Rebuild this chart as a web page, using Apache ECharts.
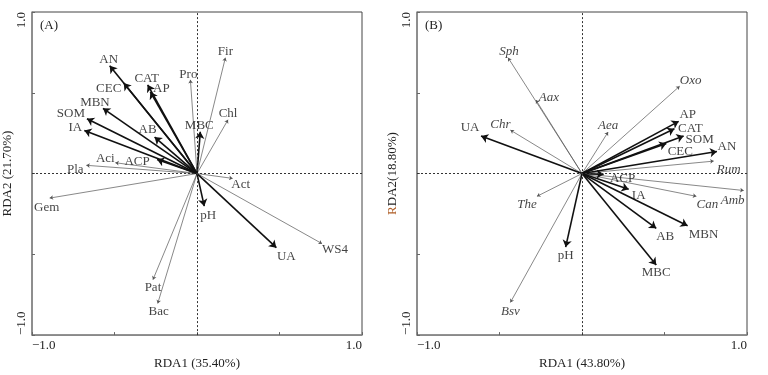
<!DOCTYPE html>
<html><head><meta charset="utf-8">
<script src="https://cdn.jsdelivr.net/npm/echarts@6/dist/echarts.min.js"></script>
<style>html,body{margin:0;padding:0;background:#fff}#c{width:768px;height:375px}</style>
</head><body><div id="c"></div>
<script>
// Panel A: environmental vectors (thick arrows)
var envA_names = ['AN','CEC','CAT','AP','MBN','SOM','IA','AB','ACP','MBC','pH','UA'];
var envA_x = [-0.529,-0.444,-0.299,-0.283,-0.570,-0.667,-0.683,-0.257,-0.242,0.020,0.044,0.481];
var envA_y = [0.667,0.560,0.549,0.505,0.404,0.339,0.267,0.226,0.087,0.259,-0.202,-0.459];
// Panel A: species vectors (thin)
var spA_names = ['Fir','Pro','Chl','Act','Gem','Pla','Aci','Pat','Bac','WS4'];
var spA_x = [0.172,-0.040,0.188,0.216,-0.893,-0.671,-0.495,-0.267,-0.238,0.758];
var spA_y = [0.717,0.580,0.333,-0.030,-0.152,0.051,0.067,-0.657,-0.804,-0.434];
// Panel B: environmental vectors
var envB_names = ['UA','AP','CAT','SOM','CEC','AN','ACP','IA','AB','MBN','MBC','pH'];
var envB_x = [-0.612,0.586,0.560,0.616,0.511,0.818,0.131,0.283,0.450,0.640,0.450,-0.099];
var envB_y = [0.232,0.323,0.277,0.232,0.186,0.137,-0.005,-0.097,-0.339,-0.323,-0.566,-0.455];
// Panel B: species vectors
var spB_names = ['Sph','Aax','Chr','Aea','Oxo','Rum','Amb','Can','The','Bsv'];
var spB_x = [-0.448,-0.279,-0.434,0.158,0.592,0.798,0.980,0.693,-0.273,-0.434];
var spB_y = [0.717,0.455,0.269,0.257,0.541,0.077,-0.105,-0.141,-0.141,-0.798];
// Axis titles and tick labels
var axisTitles = {ax:'RDA1 (35.40%)', ay:'RDA2 (21.70%)', bx:'RDA1 (43.80%)', by:'{r|R}DA2(18.80%)'};
var panelTags = ['(A)','(B)'];
var tickText = {'-1':'\u22121.0','1':'1.0'};

// label offsets (style, px)
var offA = {AN:[-1,-6],CEC:[-15,5],CAT:[-1,-6],AP:[11,-3],MBN:[-8,-6],SOM:[-16,-5],IA:[-9,-3],AB:[-7,-7],ACP:[-20,2],MBC:[-1,-6],pH:[4,9],UA:[10,9],
  Fir:[0,-6],Pro:[-2,-5],Chl:[0,-6],Act:[8,6],Gem:[-3,9],Pla:[-11,4],Aci:[-10,-4],Pat:[0,8],Bac:[1,8],WS4:[13,6]};
var offB = {UA:[-11,-8],AP:[9,-7],CAT:[16,0],SOM:[16,4],CEC:[14,8],AN:[10,-5],ACP:[19,4],IA:[10,6],AB:[9,8],MBN:[16,9],MBC:[0,8],pH:[0,9],
  Sph:[1,-6],Aax:[13,-2],Chr:[-10,-6],Aea:[0,-6],Oxo:[11,-6],Rum:[15,8],Amb:[-11,10],Can:[11,8],The:[-10,8],Bsv:[0,9]};

var FONT = 'Liberation Serif';
function arrows(names, xs, ys, idx, thick){
  return {
    type:'lines', coordinateSystem:'cartesian2d', xAxisIndex:idx, yAxisIndex:idx, silent:true,
    symbol:['none','arrow'], symbolSize: thick ? 7 : 3.5, z: thick?4:3,
    lineStyle:{color: thick ? '#111' : '#555', width: thick ? 1.6 : 0.7, opacity:1},
    data: names.map(function(n,i){ return {coords:[[0,0],[xs[i],ys[i]]]}; })
  };
}
function labels(names, xs, ys, idx, offs, italic){
  return {
    type:'scatter', xAxisIndex:idx, yAxisIndex:idx, symbolSize:0, silent:true, z:5,
    label:{show:true, position:'inside', formatter:'{b}', color:'#111', fontFamily:FONT, fontSize:13,
      fontStyle: italic?'italic':'normal', align:'center', verticalAlign:'middle'},
    data: names.map(function(n,i){ return {name:n, value:[xs[i],ys[i]], label:{offset:offs[n]||[0,0]}}; })
  };
}
function cross(idx){
  return {type:'line', xAxisIndex:idx, yAxisIndex:idx, data:[], silent:true,
    markLine:{silent:true, symbol:'none', label:{show:false},
      lineStyle:{type:[2,2], color:'#333', width:1},
      data:[{xAxis:0},{yAxis:0}]}};
}
function xAx(idx, name){
  return {gridIndex:idx, type:'value', min:-1, max:1, interval:0.5, name:name, nameLocation:'middle', nameGap:14,
    nameTextStyle:{fontFamily:FONT, fontSize:13, color:'#222'},
    axisLine:{show:true, onZero:false, lineStyle:{color:'#888', width:1.5}},
    axisTick:{show:true, inside:true, length:3, lineStyle:{color:'#666'}},
    axisLabel:{fontFamily:FONT, fontSize:13, color:'#222', margin:4, showMinLabel:true, showMaxLabel:true,
      alignMinLabel:'left', alignMaxLabel:'right',
      formatter:function(v){ return tickText[String(v)]||''; }},
    splitLine:{show:false}};
}
function yAx(idx, name, gap){
  return {gridIndex:idx, type:'value', min:-1, max:1, interval:0.5, name:name, nameLocation:'middle', nameGap:gap,
    nameTextStyle:{fontFamily:FONT, fontSize:13, color:'#222', rich:{r:{color:'#b0602a', fontFamily:FONT, fontSize:13}}},
    axisLine:{show:true, onZero:false, lineStyle:{color:'#888', width:1.5}},
    axisTick:{show:true, inside:true, length:3, lineStyle:{color:'#666'}},
    axisLabel:{fontFamily:FONT, fontSize:13, color:'#222', margin:4, rotate:90, showMinLabel:true, showMaxLabel:true,
      alignMinLabel:'left', alignMaxLabel:'right',
      formatter:function(v){ return tickText[String(v)]||''; }},
    splitLine:{show:false}};
}
var chart = echarts.init(document.getElementById('c'), null, {renderer:'canvas'});
chart.setOption({
  animation:false,
  backgroundColor:'#fff',
  grid:[
    {left:32, top:12, width:330, height:330, show:true, borderColor:'#444', borderWidth:1},
    {left:417, top:12, width:330, height:330, show:true, borderColor:'#444', borderWidth:1}
  ],
  xAxis:[xAx(0, axisTitles.ax), xAx(1, axisTitles.bx)],
  yAxis:[yAx(0, axisTitles.ay, 15), yAx(1, axisTitles.by, 13)],
  graphic:[
    {type:'text', left:40, top:19, style:{text:panelTags[0], font:'13px "Liberation Serif"', fill:'#222'}},
    {type:'text', left:425, top:19, style:{text:panelTags[1], font:'13px "Liberation Serif"', fill:'#222'}}
  ],
  series:[
    cross(0), cross(1),
    arrows(spA_names, spA_x, spA_y, 0, false),
    arrows(envA_names, envA_x, envA_y, 0, true),
    arrows(spB_names, spB_x, spB_y, 1, false),
    arrows(envB_names, envB_x, envB_y, 1, true),
    labels(spA_names, spA_x, spA_y, 0, offA, false),
    labels(envA_names, envA_x, envA_y, 0, offA, false),
    labels(spB_names, spB_x, spB_y, 1, offB, true),
    labels(envB_names, envB_x, envB_y, 1, offB, false)
  ]
});
</script></body></html>
